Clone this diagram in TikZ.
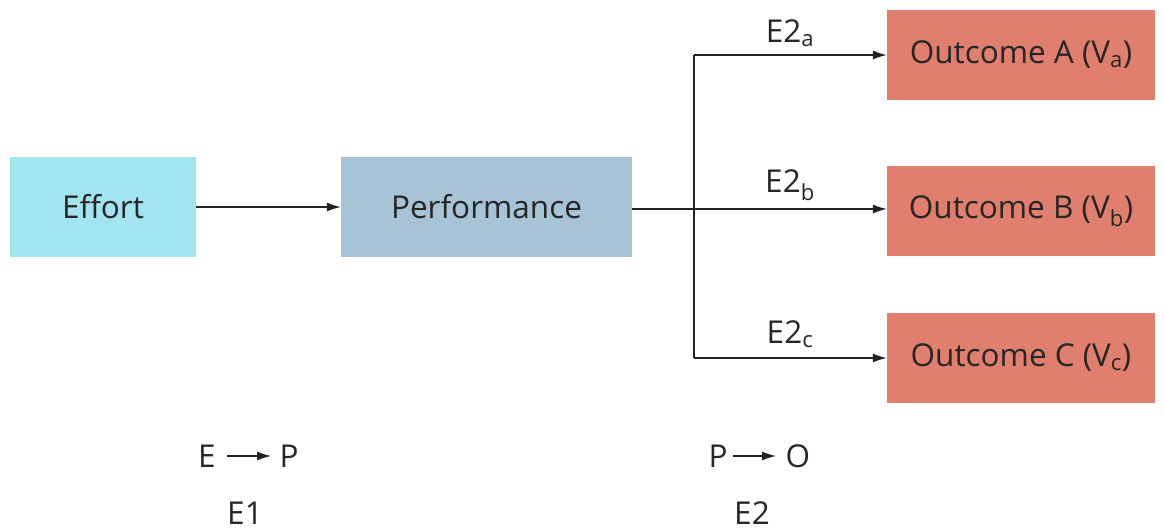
\documentclass[tikz,border=0pt]{standalone}
\usepackage{fontspec}
\setmainfont{Open Sans}
\usetikzlibrary{arrows.meta}
\definecolor{effortc}{HTML}{A2E4EF}
\definecolor{perfc}{HTML}{A7C4D6}
\definecolor{outc}{HTML}{E07F6D}
\definecolor{linec}{HTML}{222222}
\tikzset{
  box/.style={draw=none, minimum height=100pt, inner sep=0pt, font=\fontsize{31.5}{36}\selectfont, text=black!85},
  obox/.style={box, fill=outc, minimum width=268pt, minimum height=90pt},
  conn/.style={draw=linec, line width=1.2pt, -{Latex[length=14pt,width=9pt]}},
  lbl/.style={font=\fontsize{31.5}{36}\selectfont, text=black!85, inner sep=0pt},
}
\begin{document}
\begin{tikzpicture}[x=1pt,y=-1pt]
\useasboundingbox (0,0) rectangle (1164,531);
\node[box, fill=effortc, minimum width=186pt] (effort) at (103,207) {Effort};
\node[box, fill=perfc, minimum width=291pt] (perf) at (486.5,207) {Performance};
\node[obox] (oa) at (1021,55) {Outcome A (V\textsubscript{a})};
\node[obox] (ob) at (1021,211) {Outcome B (V\textsubscript{b})};
\node[obox] (oc) at (1021,358) {Outcome C (V\textsubscript{c})};
\coordinate (j) at (694,209);
\coordinate (ja) at (694,55);
\coordinate (jc) at (694,358);
\draw[conn] (effort.east) -- (perf.west);
\draw[conn] (perf.east |- j) -- (ob.west |- j);
\draw[draw=linec, line width=1.2pt] (ja) -- (jc);
\draw[conn] (ja) -- (oa.west);
\draw[conn] (jc) -- (oc.west);
\node[lbl] (la) at (790,33) {E2\textsubscript{a}};
\node[lbl] (lb) at (790,185) {E2\textsubscript{b}};
\node[lbl] (lc) at (790,334) {E2\textsubscript{c}};
\node[lbl] (e) at (207,456) {E};
\node[lbl] (p) at (289,456) {P};
\draw[draw=linec, line width=1.2pt, -{Latex[length=14pt,width=9pt]}] (227,456) -- (271,456);
\node[lbl] (e1) at (245,513) {E1};
\node[lbl] (p2) at (718,456) {P};
\node[lbl] (o) at (798,456) {O};
\draw[draw=linec, line width=1.2pt, -{Latex[length=14pt,width=9pt]}] (733,456) -- (776,456);
\node[lbl] (e2) at (752,513) {E2};
\end{tikzpicture}
\end{document}
